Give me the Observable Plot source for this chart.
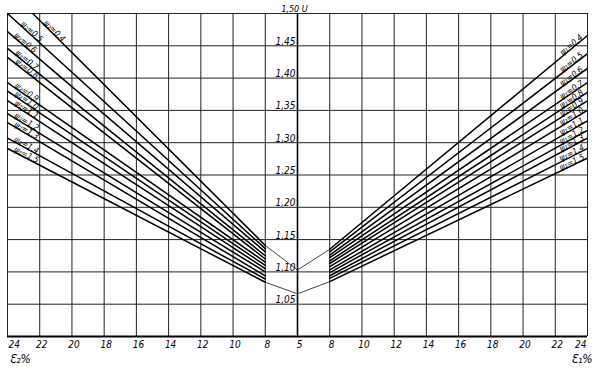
<!DOCTYPE html>
<html><head><meta charset="utf-8">
<script src="https://cdn.jsdelivr.net/npm/d3@7"></script>
<script src="https://cdn.jsdelivr.net/npm/@observablehq/plot@0.6"></script>
<style>
body{margin:0;background:#fff}
svg{font-family:"DejaVu Sans Condensed","DejaVu Sans",sans-serif;font-style:italic}
</style>
</head><body><div id="chart"></div>
<script>
// ψ values (labels)
const psi = ["0,4","0,5","0,6","0,7","0,8","0,9","1,0","1,1","1,2","1,3","1,4","1,5"];
// U values of the left fan (ε2) at ε2 = 24 and ε2 = 8
const leftAt24 = [1.539,1.500,1.472,1.446,1.432,1.393,1.380,1.365,1.345,1.331,1.307,1.291];
const leftAt8  = [1.141,1.136,1.131,1.125,1.120,1.115,1.110,1.105,1.100,1.094,1.089,1.084];
// U values of the right fan (ε1) at ε1 = 8 and ε1 = 24
const rightAt8  = [1.135,1.131,1.126,1.122,1.117,1.113,1.108,1.103,1.099,1.094,1.090,1.085];
const rightAt24 = [1.466,1.438,1.415,1.393,1.378,1.365,1.350,1.334,1.319,1.307,1.291,1.276];
// thin connecting lines to the centre (ε = 6)
const centreUpper = 1.103, centreLower = 1.066;
// label positions along the lines (ε value)
const leftLabelEps = [21.2,22.6,23.0,22.9,22.9,22.9,22.9,22.9,22.9,22.9,22.9,22.9];
const rightLabelEps = [23.1,23.1,23.1,23.1,23.1,23.1,23.1,23.1,23.1,23.1,23.1,23.1];
// axis ticks
const xTickEps = [24,22,20,18,16,14,12,10,8,6,8,10,12,14,16,18,20,22,24];
const xTickLabels = ["24","22","20","18","16","14","12","10","8","5","8","10","12","14","16","18","20","22","24"];
const yTicks = [1.05,1.10,1.15,1.20,1.25,1.30,1.35,1.40,1.45];
const yTickLabels = ["1,05","1,10","1,15","1,20","1,25","1,30","1,35","1,40","1,45"];
const yGrid = [1.00,1.05,1.10,1.15,1.20,1.25,1.30,1.35,1.40,1.45,1.50];

const W=594,H=368,mT=13,mB=32,mL=7,mR=7;
const kx=(W-mL-mR)/36, ky=(H-mT-mB)/0.5;
const posL = e => -(e-6), posR = e => (e-6);
const xTicks = xTickEps.map((e,i)=> i<9 ? posL(e) : posR(e));

const lines=[], labels=[];
psi.forEach((p,i)=>{
  const xa=posL(24), xb=posL(8);
  lines.push({k:"L"+i,x:xa,y:leftAt24[i]},{k:"L"+i,x:xb,y:leftAt8[i]});
  const angL=Math.atan2(-(leftAt8[i]-leftAt24[i])*ky,(xb-xa)*kx)*180/Math.PI;
  const lx=posL(leftLabelEps[i]);
  const ly=leftAt24[i]+(leftAt8[i]-leftAt24[i])*(lx-xa)/(xb-xa);
  labels.push({x:lx,y:ly,r:angL,t:"ψ₂=" + p});
  const xc=posR(8), xd=posR(24);
  lines.push({k:"R"+i,x:xc,y:rightAt8[i]},{k:"R"+i,x:xd,y:rightAt24[i]});
  const angR=Math.atan2(-(rightAt24[i]-rightAt8[i])*ky,(xd-xc)*kx)*180/Math.PI;
  const rx=posR(rightLabelEps[i]);
  const ry=rightAt8[i]+(rightAt24[i]-rightAt8[i])*(rx-xc)/(xd-xc);
  labels.push({x:rx,y:ry,r:angR,t:"ψ₁=" + p});
});
const n=psi.length-1;
const thin=[
  {k:"a",x:posL(8),y:leftAt8[0]},{k:"a",x:0,y:centreUpper},{k:"a",x:posR(8),y:rightAt8[0]},
  {k:"b",x:posL(8),y:leftAt8[n]},{k:"b",x:0,y:centreLower},{k:"b",x:posR(8),y:rightAt8[n]}
];
const xt = xTicks.map((x,i)=>({x,t:xTickLabels[i]}));

const chart = Plot.plot({
  width:W,height:H,marginTop:mT,marginBottom:mB,marginLeft:mL,marginRight:mR,
  x:{domain:[-18,18],axis:null},
  y:{domain:[1,1.5],axis:null},
  style:{background:"#fff",overflow:"visible"},
  marks:[
    Plot.ruleX(xTicks,{stroke:"#222",strokeWidth:1}),
    Plot.ruleY(yGrid,{stroke:"#222",strokeWidth:1}),
    Plot.ruleX([0],{stroke:"#000",strokeWidth:1.6}),
    Plot.ruleY([1.0],{stroke:"#000",strokeWidth:2}),
    Plot.line(thin,{x:"x",y:"y",z:"k",stroke:"#111",strokeWidth:0.8}),
    Plot.line(lines,{x:"x",y:"y",z:"k",stroke:"#000",strokeWidth:1.5,clip:true}),
    Plot.text(labels,{x:"x",y:"y",text:"t",rotate:"r",lineAnchor:"bottom",textAnchor:"middle",fontSize:8.5,fill:"#000",dy:-0.5}),
    Plot.text(yTicks,{x:0,y:d=>d,text:(d,i)=>yTickLabels[i],textAnchor:"end",lineAnchor:"bottom",dx:-2,dy:-1,fontSize:10,fill:"#000"}),
    Plot.text(["1,50 U"],{frameAnchor:"top",text:d=>d,lineAnchor:"bottom",dx:-3,dy:-2,fontSize:9,fill:"#000"}),
    Plot.text(xt.slice(0,1),{x:"x",y:1,text:"t",textAnchor:"start",lineAnchor:"top",dx:1,dy:4,fontSize:10,fill:"#000"}),
    Plot.text(xt.slice(1,-1),{x:"x",y:1,text:"t",textAnchor:"middle",lineAnchor:"top",dx:2,dy:4,fontSize:10,fill:"#000"}),
    Plot.text(xt.slice(-1),{x:"x",y:1,text:"t",textAnchor:"end",lineAnchor:"top",dx:-1,dy:4,fontSize:10,fill:"#000"}),
    Plot.text(["Ɛ₂%"],{frameAnchor:"bottom-left",text:d=>d,textAnchor:"start",lineAnchor:"top",dx:2,dy:18,fontSize:12,fill:"#000"}),
    Plot.text(["Ɛ₁%"],{frameAnchor:"bottom-right",text:d=>d,textAnchor:"end",lineAnchor:"top",dx:5,dy:18,fontSize:12,fill:"#000"})
  ]
});
document.getElementById("chart").append(chart);
</script>
</body></html>
